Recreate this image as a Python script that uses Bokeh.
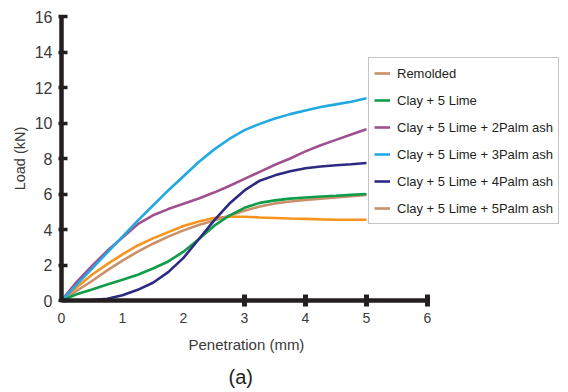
from bokeh.plotting import figure
from bokeh.models import Range1d, LinearAxis, FixedTicker, Legend, LegendItem, Title
from bokeh.embed import file_html
from bokeh.resources import INLINE

# ---- data ----
penetration = [0, 0.25, 0.5, 0.75, 1.0, 1.25, 1.5, 1.75, 2.0, 2.25, 2.5,
               2.75, 3.0, 3.25, 3.5, 3.75, 4.0, 4.25, 4.5, 4.75, 5.0]
remolded = [0, 0.75, 1.45, 2.05, 2.6, 3.1, 3.5, 3.85, 4.2, 4.45, 4.65,
            4.72, 4.72, 4.68, 4.65, 4.62, 4.6, 4.57, 4.55, 4.55, 4.55]
clay_lime = [0, 0.35, 0.62, 0.9, 1.17, 1.45, 1.8, 2.2, 2.75, 3.45, 4.2,
             4.78, 5.22, 5.5, 5.64, 5.74, 5.8, 5.86, 5.9, 5.95, 6.0]
palm2 = [0, 1.05, 1.95, 2.8, 3.55, 4.3, 4.8, 5.15, 5.45, 5.75, 6.08,
         6.45, 6.85, 7.25, 7.65, 8.0, 8.4, 8.75, 9.05, 9.35, 9.65]
palm3 = [0, 0.9, 1.8, 2.7, 3.6, 4.5, 5.35, 6.2, 7.0, 7.8, 8.5,
         9.1, 9.6, 9.95, 10.25, 10.5, 10.7, 10.9, 11.05, 11.2, 11.4]
palm4 = [0, 0, 0.02, 0.1, 0.3, 0.6, 1.0, 1.6, 2.4, 3.45, 4.5,
         5.45, 6.2, 6.75, 7.05, 7.28, 7.45, 7.55, 7.62, 7.68, 7.75]
palm5 = [0, 0.55, 1.1, 1.7, 2.25, 2.75, 3.2, 3.6, 3.95, 4.25, 4.5,
         4.78, 5.05, 5.3, 5.47, 5.58, 5.67, 5.74, 5.8, 5.87, 5.95]

x_ticks_marked = [3, 4, 5, 6]
x_tick_labels = [0, 1, 2, 3, 4, 5, 6]
y_ticks = [0, 2, 4, 6, 8, 10, 12, 14, 16]

labels = ["Remolded", "Clay + 5 Lime", "Clay + 5 Lime + 2Palm ash",
          "Clay + 5 Lime + 3Palm ash", "Clay + 5 Lime + 4Palm ash",
          "Clay + 5 Lime + 5Palm ash"]

ORANGE = "#f7941d"
TAN = "#c9906a"
GREEN = "#0f9d4a"
PURPLE = "#a0508f"
BLUE = "#22a9e1"
NAVY = "#2c2a82"
AXIS = "#231f20"
TEXT = "#3a3a3a"
FONT = "Liberation Sans"

# frame spans 61..566 px; the axis itself is bounded to 0..6
p = figure(width=568, height=392, output_backend="svg", toolbar_location=None,
           x_range=Range1d(0, 8.28), y_range=Range1d(0, 16),
           min_border_left=61, min_border_right=2, min_border_top=16,
           min_border_bottom=92)
p.outline_line_color = None
p.grid.visible = False
p.background_fill_color = "white"
p.border_fill_color = "white"

# curves
lw = 2.6
r_rem = p.line(penetration, remolded, color=ORANGE, line_width=lw)
r_p5 = p.line(penetration, palm5, color=TAN, line_width=lw)
r_cl = p.line(penetration, clay_lime, color=GREEN, line_width=lw)
r_p2 = p.line(penetration, palm2, color=PURPLE, line_width=lw)
r_p3 = p.line(penetration, palm3, color=BLUE, line_width=lw)
r_p4 = p.line(penetration, palm4, color=NAVY, line_width=lw)

# x axis: line + ticks
xa = p.xaxis[0]
xa.bounds = (0, 6)
xa.ticker = FixedTicker(ticks=x_ticks_marked)
xa.axis_line_width = 4.5
xa.axis_line_color = AXIS
xa.major_tick_line_color = AXIS
xa.major_tick_line_width = 5
xa.major_tick_in = 6
xa.major_tick_out = 6
xa.minor_tick_line_color = None
xa.major_label_overrides = {t: "" for t in x_ticks_marked}
xa.major_label_text_font_size = "1px"
xa.major_label_standoff = 0

# x axis: labels
xa2 = LinearAxis(ticker=FixedTicker(ticks=x_tick_labels), bounds=(0, 6))
xa2.axis_line_color = None
xa2.major_tick_line_color = None
xa2.minor_tick_line_color = None
xa2.major_label_standoff = 0
xa2.major_label_text_font = FONT
xa2.major_label_text_font_size = "14px"
xa2.major_label_text_color = TEXT
p.add_layout(xa2, "below")

# x axis title, placed under the 0..6 span
xtitle = Title(text="Penetration (mm)", align="left", offset=127,
               text_font=FONT, text_font_size="15px", text_font_style="normal",
               text_color=TEXT, standoff=17)
p.add_layout(xtitle, "below")

# y axis
ya = p.yaxis[0]
ya.ticker = FixedTicker(ticks=y_ticks)
ya.axis_line_width = 4.5
ya.axis_line_color = AXIS
ya.major_tick_line_color = AXIS
ya.major_tick_line_width = 3.5
ya.major_tick_in = 6
ya.major_tick_out = 3
ya.minor_tick_line_color = None
ya.major_label_text_font = FONT
ya.major_label_text_font_size = "16px"
ya.major_label_text_color = TEXT
ya.major_label_standoff = 6
ya.axis_label = "Load (kN)"
ya.axis_label_text_font = FONT
ya.axis_label_text_font_size = "14.5px"
ya.axis_label_text_font_style = "normal"
ya.axis_label_text_color = TEXT
ya.axis_label_standoff = 4

# caption
cap = Title(text="(a)", align="left", offset=167, text_font=FONT,
            text_font_size="20px", text_font_style="normal", text_color=AXIS,
            standoff=4)
p.add_layout(cap, "below")

# legend
legend = Legend(items=[
    LegendItem(label=labels[0], renderers=[r_p5]),
    LegendItem(label=labels[1], renderers=[r_cl]),
    LegendItem(label=labels[2], renderers=[r_p2]),
    LegendItem(label=labels[3], renderers=[r_p3]),
    LegendItem(label=labels[4], renderers=[r_p4]),
    LegendItem(label=labels[5], renderers=[r_p5]),
], location=(307, 76), margin=0, padding=5, spacing=7,
    glyph_width=16, glyph_height=20, label_height=20, label_standoff=7,
    label_text_font=FONT, label_text_font_size="13px", label_text_color=AXIS,
    border_line_color="#8c8c8c", border_line_width=1,
    background_fill_color="white", background_fill_alpha=1.0)
p.add_layout(legend)

open("out.html", "w").write(file_html(p, INLINE))
